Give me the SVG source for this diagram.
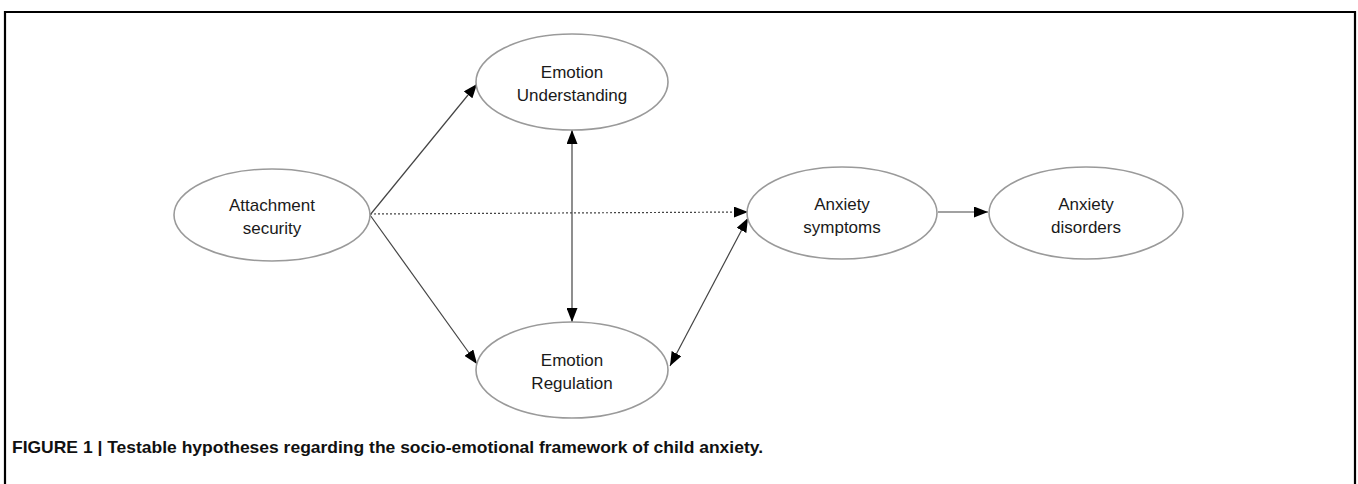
<svg xmlns="http://www.w3.org/2000/svg" width="1358" height="484" viewBox="0 0 1358 484">
<style>
.node ellipse{fill:#fff;stroke:#9a9a9a;stroke-width:1.6}
.node text{font-family:"Liberation Sans",Arial,sans-serif;font-size:17px;fill:#1a1a1a;text-anchor:middle}
.edge{stroke:#444;stroke-width:1.2;fill:none}
.dot{stroke-dasharray:2 2}
.cap{font-family:"Liberation Sans",Arial,sans-serif;font-size:17px;font-weight:bold;fill:#111}
</style>
<defs>
<marker id="ah" viewBox="0 0 14 11" refX="14" refY="5.5" markerWidth="14" markerHeight="11" markerUnits="userSpaceOnUse" orient="auto-start-reverse">
<path d="M0,0 L14,5.5 L0,11 z" fill="#000"/>
</marker>
</defs>
<rect width="1358" height="484" fill="#fff"/>
<path d="M5,490 V12 H1355 V490" fill="none" stroke="#000" stroke-width="2.2"/>
<g id="connectors">
<line class="edge" x1="370" y1="215" x2="477" y2="84" marker-end="url(#ah)"/>
<line class="edge" x1="370" y1="215" x2="477" y2="364" marker-end="url(#ah)"/>
<line class="edge dot" x1="370" y1="214" x2="748" y2="212" marker-end="url(#ah)"/>
<line class="edge" x1="572" y1="130" x2="572" y2="322" marker-start="url(#ah)" marker-end="url(#ah)"/>
<line class="edge" x1="670" y1="366" x2="748" y2="218" marker-start="url(#ah)" marker-end="url(#ah)"/>
<line class="edge" x1="938" y1="212" x2="988" y2="212" marker-end="url(#ah)"/>
</g>
<g id="n-understanding" class="node">
<ellipse cx="572" cy="82" rx="96" ry="48"/>
<text x="572" y="78">Emotion</text>
<text x="572" y="101">Understanding</text>
</g>
<g id="n-attachment" class="node">
<ellipse cx="272" cy="215" rx="98" ry="46"/>
<text x="272" y="211">Attachment</text>
<text x="272" y="234">security</text>
</g>
<g id="n-regulation" class="node">
<ellipse cx="572" cy="370" rx="96" ry="48"/>
<text x="572" y="366">Emotion</text>
<text x="572" y="389">Regulation</text>
</g>
<g id="n-symptoms" class="node">
<ellipse cx="842" cy="213" rx="95" ry="46"/>
<text x="842" y="210">Anxiety</text>
<text x="842" y="233">symptoms</text>
</g>
<g id="n-disorders" class="node">
<ellipse cx="1086" cy="213" rx="97" ry="46"/>
<text x="1086" y="210">Anxiety</text>
<text x="1086" y="233">disorders</text>
</g>
<text class="cap" x="12" y="453" textLength="751" lengthAdjust="spacingAndGlyphs">FIGURE 1 | Testable hypotheses regarding the socio-emotional framework of child anxiety.</text>
</svg>
